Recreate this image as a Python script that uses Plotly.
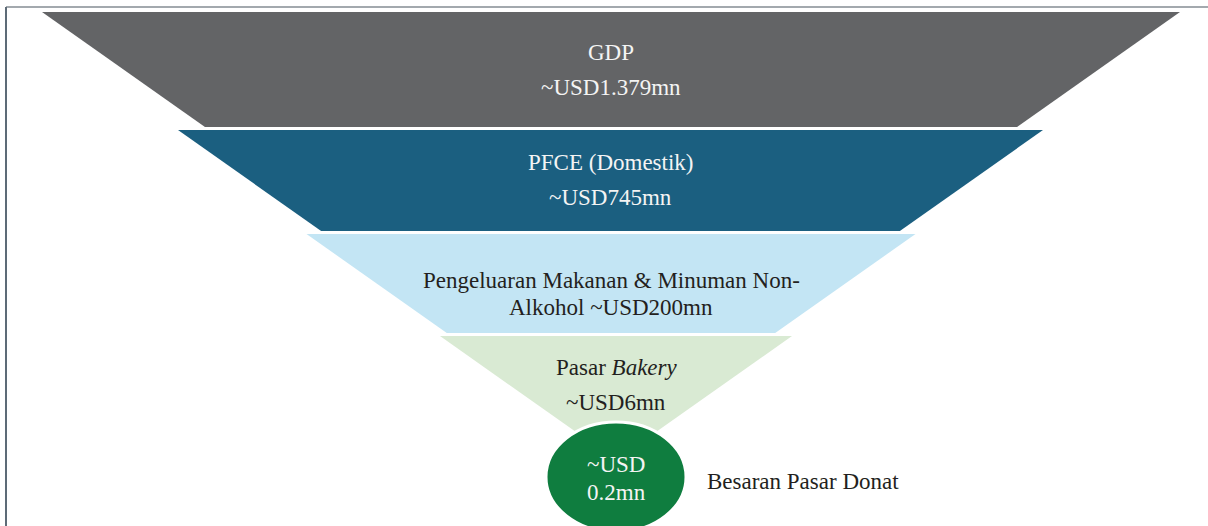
import plotly.graph_objects as go

# ---- data (text content of the funnel) ----
categories = ["GDP", "PFCE (Domestik)", "Pengeluaran Makanan & Minuman Non-Alkohol",
              "Pasar Bakery", "Besaran Pasar Donat"]
values_text = ["~USD1.379mn", "~USD745mn", "~USD200mn", "~USD6mn", "~USD 0.2mn"]

# lines as displayed inside each funnel layer
line1 = ["GDP", "PFCE (Domestik)", "Pengeluaran Makanan & Minuman Non-", "Pasar <i>Bakery</i>"]
line2 = ["~USD1.379mn", "~USD745mn", "Alkohol ~USD200mn", "~USD6mn"]
donut_lines = ["~USD", "0.2mn"]
donut_label = "Besaran Pasar Donat"

# ---- geometry / styling ----
W, H = 1208, 526
layer_center = [611, 610.5, 611, 616]
layer_top = [12, 130, 234, 336]
layer_bottom = [127, 231, 333, 460]
layer_halfw = [569, 432.5, 304.5, 176]
slope = 1.417
layer_color = ["#636466", "#1b5f80", "#c3e5f4", "#d9ead3"]
text_color = ["#f4f4f4", "#f4f4f4", "#231f20", "#231f20"]
line1_y = [52, 162, 280, 367]
line2_y = [87, 197, 307, 402]
FONT = '"Liberation Serif", "DejaVu Serif", "Noto Serif", "Times New Roman", Times, serif'
FS = 23

fig = go.Figure()

for i in range(4):
    c, t, b, hw = layer_center[i], layer_top[i], layer_bottom[i], layer_halfw[i]
    bhw = max(hw - slope * (b - t), 0)
    xs = [c - hw, c + hw, c + bhw, c - bhw, c - hw]
    ys = [t, t, b, b, t]
    fig.add_trace(go.Scatter(x=xs, y=ys, mode="lines", fill="toself",
                             fillcolor=layer_color[i], line=dict(width=0),
                             hoverinfo="skip", showlegend=False))
    fig.add_annotation(x=c, y=line1_y[i], text=line1[i], showarrow=False,
                       font=dict(family=FONT, size=FS, color=text_color[i]),
                       xanchor="center", yanchor="middle")
    fig.add_annotation(x=c, y=line2_y[i], text=line2[i], showarrow=False,
                       font=dict(family=FONT, size=FS, color=text_color[i]),
                       xanchor="center", yanchor="middle")

# donut market ellipse
ecx, ecy, erx, ery = 616, 477, 70, 55
fig.add_shape(type="circle", xref="x", yref="y",
              x0=ecx - erx, x1=ecx + erx, y0=ecy - ery, y1=ecy + ery,
              fillcolor="#0f7d3f", line=dict(color="white", width=3), layer="above")
for txt, yy in zip(donut_lines, [464, 492]):
    fig.add_annotation(x=ecx, y=yy, text=txt, showarrow=False,
                       font=dict(family=FONT, size=FS, color="#f4f4f4"),
                       xanchor="center", yanchor="middle")
fig.add_annotation(x=705, y=481, text=donut_label, showarrow=False,
                   font=dict(family=FONT, size=FS, color="#231f20"),
                   xanchor="left", yanchor="middle")

# frame lines (top and left)
fig.add_shape(type="line", xref="x", yref="y", x0=6, x1=W, y0=7, y1=7,
              line=dict(color="#a3a9ae", width=2))
fig.add_shape(type="line", xref="x", yref="y", x0=6, x1=6, y0=7, y1=H,
              line=dict(color="#5d6b77", width=2))

fig.update_layout(
    width=W, height=H, margin=dict(l=0, r=0, t=0, b=0),
    paper_bgcolor="white", plot_bgcolor="white",
    font=dict(family=FONT),
    xaxis=dict(range=[0, W], visible=False, fixedrange=True),
    yaxis=dict(range=[H, 0], visible=False, fixedrange=True),
    showlegend=False,
)

fig.write_html("out.html", config=dict(displayModeBar=False),
               post_script="document.body.style.margin='0';document.body.style.overflow='hidden';")
